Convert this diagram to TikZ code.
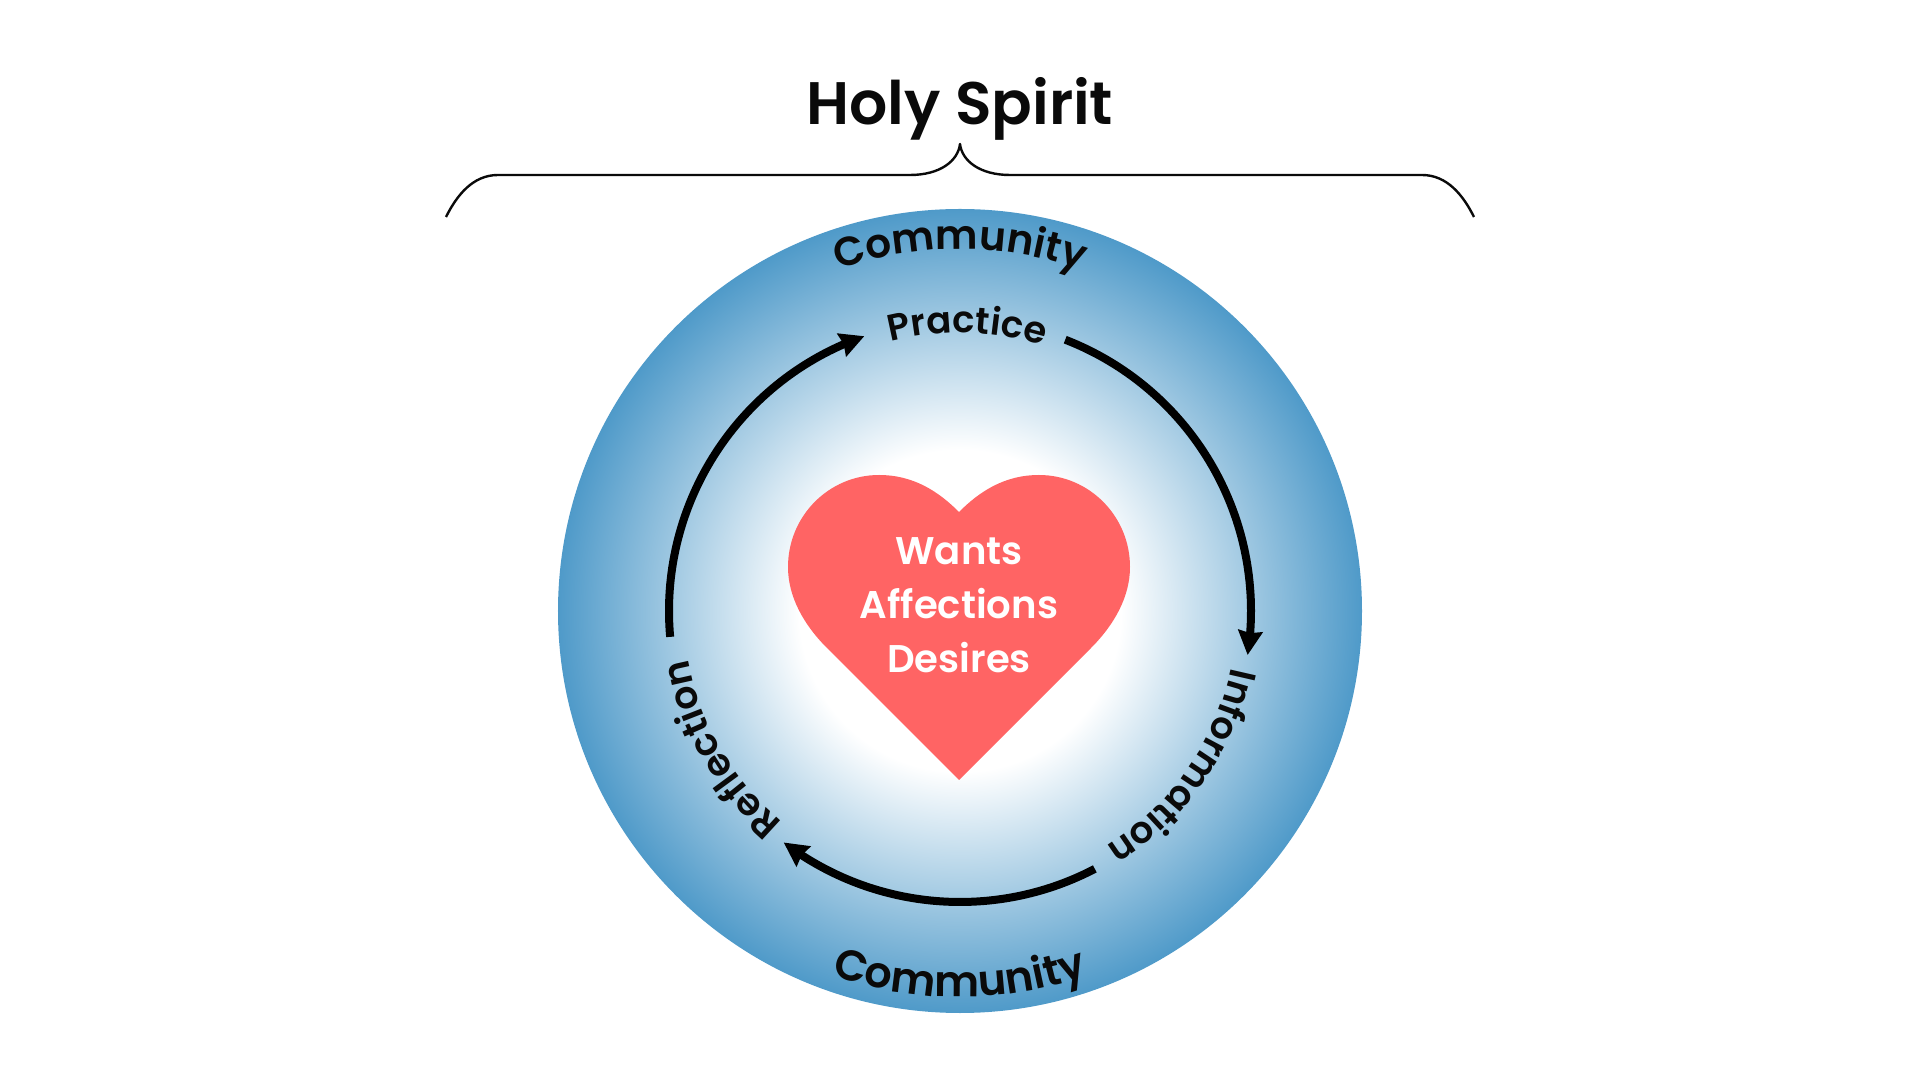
\documentclass[tikz,border=0pt]{standalone}
\usepackage{fontspec}
\setmainfont{Poppins SemiBold}
\usetikzlibrary{arrows.meta,decorations.text,bending}
\definecolor{ringblue}{HTML}{4F9AC9}
\definecolor{heartred}{HTML}{FF6464}
\definecolor{inkblack}{HTML}{0A0A0A}
\pgfdeclareradialshading{ringshade}{\pgfpointorigin}{color(0bp)=(white);color(10bp)=(white);color(25bp)=(ringblue);color(100bp)=(ringblue)}
\tikzset{
  cycarrow/.style={line width=4pt,draw=black,-{Stealth[length=12pt,width=12pt,inset=1pt]}},
  bracketline/.style={line width=1.2pt,draw=inkblack},
  heartlabel/.style={anchor=base,text=white,inner sep=0pt,font=\fontsize{19.3}{19.3}\selectfont},
  titlelabel/.style={anchor=base,text=inkblack,inner sep=0pt,font=\fontsize{30}{30}\selectfont},
}
\newcommand{\arctext}[5]{%
  \path[decorate,decoration={text along path,text align=center,text color=inkblack,
     text={|\fontsize{#4}{#4}\selectfont|#5}}]
     (#1:#3) arc[start angle=#1,end angle=#2,radius=#3];}
\begin{document}
\begin{tikzpicture}[x=0.5pt,y=0.5pt]
\useasboundingbox (-960,-469) rectangle (960,611);
\coordinate (hub) at (0,0);
\shade[shading=ringshade] (hub) circle[radius=402];
% bracket
\draw[bracketline,line join=round]
  (-514,394) .. controls (-503,416) and (-487,436) .. (-462,436)
  -- (-50,436) .. controls (-20,436) and (-2,450) .. (0,467)
  .. controls (2,450) and (20,436) .. (50,436)
  -- (462,436) .. controls (487,436) and (503,416) .. (514,394);
\node[titlelabel] (title) at (0,486) {Holy Spirit};
% heart
\begin{scope}[xshift=-0.5pt]
\fill[heartred] (0,-169) -- (132,-37) .. controls (155,-14) and (171,14) .. (171,44)
  .. controls (171,95) and (130,136) .. (80,136)
  .. controls (45,136) and (20,119) .. (0,99)
  .. controls (-20,119) and (-45,136) .. (-80,136)
  .. controls (-130,136) and (-171,95) .. (-171,44)
  .. controls (-171,14) and (-155,-14) .. (-132,-37) -- cycle;
\node[heartlabel] (wants) at (0,46) {Wants};
\node[heartlabel] (affections) at (0,-8) {Affections};
\node[heartlabel] (desires) at (0,-62) {Desires};
\end{scope}
% arrows
\draw[cycarrow] (68.8:291) arc[start angle=68.8,end angle=-8.7,radius=291];
\draw[cycarrow] (-62.4:291) arc[start angle=-62.4,end angle=-127.3,radius=291];
\draw[cycarrow] (185.1:291) arc[start angle=185.1,end angle=109.2,radius=291];
% curved labels
\arctext{130}{50}{362}{20.3}{Community}
\arctext{230}{310}{386}{21.5}{Community}
\arctext{128.5}{48.5}{278}{18.5}{Practice}
\arctext{15}{-85}{277}{18.6}{Information}
\arctext{260}{160}{276}{19}{Reflection}
\end{tikzpicture}
\end{document}
